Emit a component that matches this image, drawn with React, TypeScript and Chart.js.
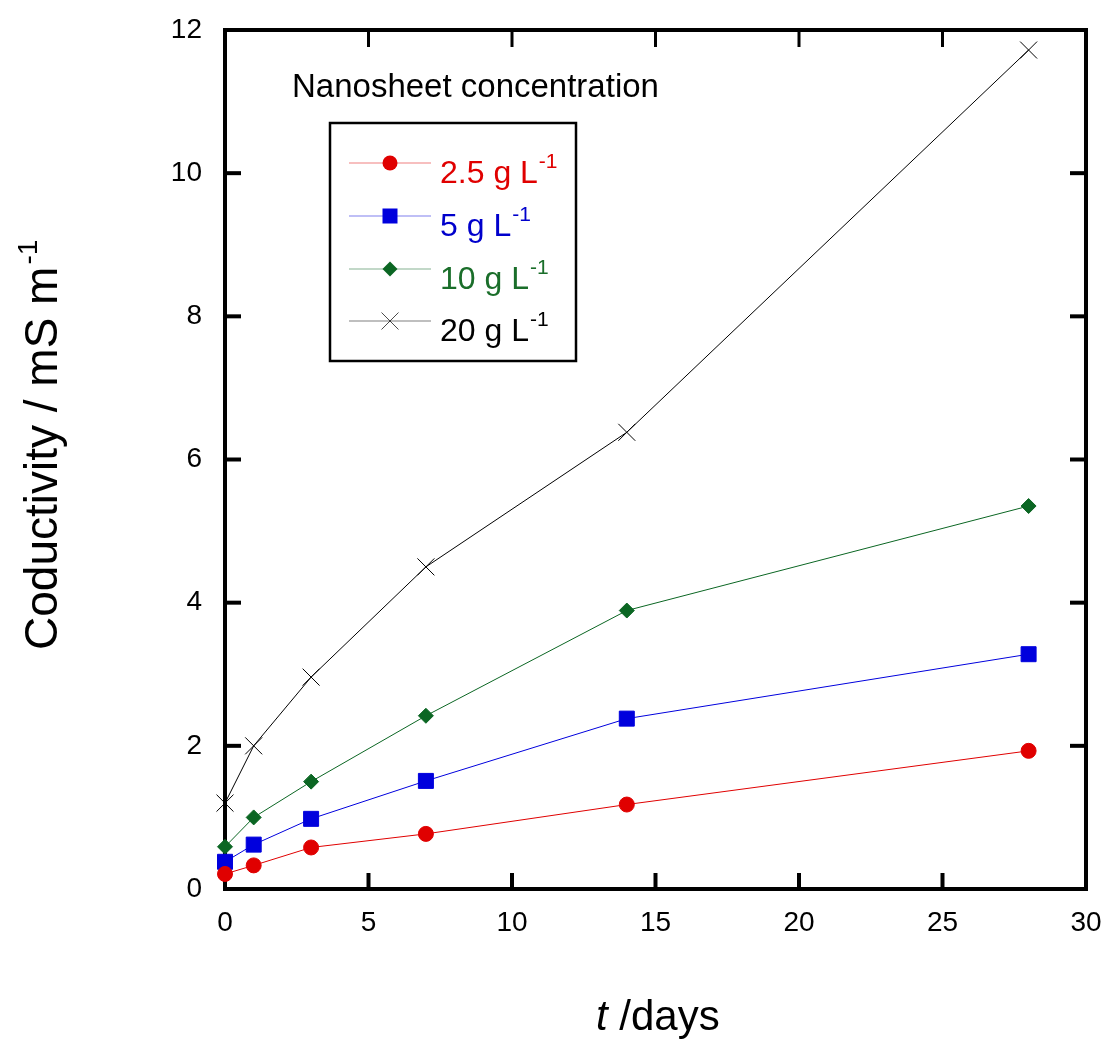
import React, { useEffect, useRef } from 'react';
import { Chart, registerables } from 'chart.js';

Chart.register(...registerables);

// ---- data ----
const days = [0, 1, 3, 7, 14, 28];
const conc2_5 = [0.21, 0.33, 0.58, 0.77, 1.18, 1.93];
const conc5 = [0.38, 0.62, 0.98, 1.51, 2.38, 3.28];
const conc10 = [0.59, 1.0, 1.5, 2.42, 3.89, 5.35];
const conc20 = [1.2, 2.0, 2.96, 4.5, 6.38, 11.72];
const seriesNames = ['2.5 g L', '5 g L', '10 g L', '20 g L'];
const seriesValues = [conc2_5, conc5, conc10, conc20];
const seriesColors = ['#e00000', '#0000dd', '#0b6623', '#000000'];
const textColors = ['#e00000', '#0000cc', '#1a6e2a', '#000000'];
const pointStyles = ['circle', 'rect', 'rectRot', 'crossRot'];
const pointRadii = [7.5, 10.6, 7.5, 12];
const xTickValues = [0, 5, 10, 15, 20, 25, 30];
const yTickValues = [0, 2, 4, 6, 8, 10, 12];
const legendTitle = 'Nanosheet concentration';
const superscript = '-1';
const yTitle = 'Coductivity / mS m';
const xTitleItalic = 't';
const xTitleRest = ' /days';

const FONT = 'Arial, "Liberation Sans", sans-serif';

const framePlugin = {
  id: 'frameTicks',
  beforeDatasetsDraw(chart: any) {
    const { ctx, chartArea } = chart;
    const { left, right, top, bottom } = chartArea;
    const xs = chart.scales.x;
    const ys = chart.scales.y;
    ctx.save();
    ctx.strokeStyle = '#000';
    ctx.lineWidth = 4;
    ctx.strokeRect(left, top, right - left, bottom - top);
    xTickValues.slice(1, -1).forEach((v) => {
      const px = xs.getPixelForValue(v);
      ctx.lineWidth = 4;
      ctx.beginPath();
      ctx.moveTo(px, bottom);
      ctx.lineTo(px, bottom - 16);
      ctx.stroke();
      ctx.lineWidth = 3;
      ctx.beginPath();
      ctx.moveTo(px, top);
      ctx.lineTo(px, top + 17);
      ctx.stroke();
    });
    yTickValues.slice(1, -1).forEach((v) => {
      const py = ys.getPixelForValue(v);
      ctx.lineWidth = 4;
      ctx.beginPath();
      ctx.moveTo(left, py);
      ctx.lineTo(left + 16, py);
      ctx.stroke();
      ctx.beginPath();
      ctx.moveTo(right, py);
      ctx.lineTo(right - 16, py);
      ctx.stroke();
    });
    ctx.restore();
  },
  afterDraw(chart: any) {
    const { ctx } = chart;
    ctx.save();
    ctx.fillStyle = '#000';
    ctx.textBaseline = 'alphabetic';
    ctx.textAlign = 'left';

    // y-axis title
    ctx.save();
    ctx.translate(57, 650);
    ctx.rotate(-Math.PI / 2);
    ctx.font = `46px ${FONT}`;
    ctx.fillText(yTitle, 0, 0);
    const w = ctx.measureText(yTitle).width;
    ctx.font = `28px ${FONT}`;
    ctx.fillText(superscript, w + 2, -20);
    ctx.restore();

    // x-axis title
    ctx.font = `italic 42px ${FONT}`;
    ctx.fillText(xTitleItalic, 596, 1030);
    const tw = ctx.measureText(xTitleItalic).width;
    ctx.font = `42px ${FONT}`;
    ctx.fillText(xTitleRest, 596 + tw, 1030);

    // legend title
    ctx.font = `33px ${FONT}`;
    ctx.fillText(legendTitle, 292, 97);

    // legend box
    ctx.lineWidth = 2.5;
    ctx.strokeStyle = '#000';
    ctx.strokeRect(330, 123, 246, 238);

    const rows = [163, 216, 269, 321];
    rows.forEach((ry, i) => {
      const col = seriesColors[i];
      ctx.strokeStyle = col;
      ctx.globalAlpha = 0.5;
      ctx.lineWidth = 1;
      ctx.beginPath();
      ctx.moveTo(349, ry);
      ctx.lineTo(431, ry);
      ctx.stroke();
      ctx.globalAlpha = 1;
      ctx.fillStyle = col;
      const cx = 390;
      if (pointStyles[i] === 'circle') {
        ctx.beginPath();
        ctx.arc(cx, ry, 7.5, 0, Math.PI * 2);
        ctx.fill();
      } else if (pointStyles[i] === 'rect') {
        ctx.fillRect(cx - 7.5, ry - 7.5, 15, 15);
      } else if (pointStyles[i] === 'rectRot') {
        ctx.beginPath();
        ctx.moveTo(cx - 7.5, ry);
        ctx.lineTo(cx, ry - 7.5);
        ctx.lineTo(cx + 7.5, ry);
        ctx.lineTo(cx, ry + 7.5);
        ctx.closePath();
        ctx.fill();
      } else {
        ctx.globalAlpha = 0.7;
        ctx.lineWidth = 1;
        ctx.strokeStyle = col;
        ctx.beginPath();
        ctx.moveTo(cx - 8.5, ry - 8.5);
        ctx.lineTo(cx + 8.5, ry + 8.5);
        ctx.moveTo(cx + 8.5, ry - 8.5);
        ctx.lineTo(cx - 8.5, ry + 8.5);
        ctx.stroke();
        ctx.globalAlpha = 1;
      }
      ctx.fillStyle = textColors[i];
      ctx.font = `32px ${FONT}`;
      ctx.fillText(seriesNames[i], 440, ry + 20);
      const lw = ctx.measureText(seriesNames[i]).width;
      ctx.font = `21px ${FONT}`;
      ctx.fillText(superscript, 440 + lw + 1, ry + 5);
    });
    ctx.restore();
  },
};

export default function App() {
  const ref = useRef<HTMLCanvasElement | null>(null);
  useEffect(() => {
    if (!ref.current) return;
    const chart = new Chart(ref.current, {
      type: 'line',
      data: {
        datasets: seriesValues.map((vals, i) => ({
          label: seriesNames[i],
          data: days.map((d, j) => ({ x: d, y: vals[j] })),
          borderColor: seriesColors[i],
          backgroundColor: seriesColors[i],
          borderWidth: 1,
          pointStyle: pointStyles[i] as any,
          pointRadius: pointRadii[i],
          pointBorderWidth: 1,
          pointBorderColor: seriesColors[i],
          pointBackgroundColor: seriesColors[i],
          tension: 0,
          clip: false as any,
        })),
      },
      options: {
        animation: false,
        responsive: false,
        devicePixelRatio: 1,
        layout: { padding: { top: 30, right: 21, left: 0, bottom: 0 } },
        plugins: { legend: { display: false }, tooltip: { enabled: false } },
        scales: {
          x: {
            type: 'linear',
            min: 0,
            max: 30,
            grid: { display: false, drawTicks: false },
            border: { display: false },
            ticks: {
              stepSize: 5,
              padding: 17,
              color: '#000',
              font: { family: FONT, size: 28 },
            },
            afterFit: (s: any) => {
              s.height = 150;
              s.paddingLeft = 0;
              s.paddingRight = 0;
            },
          },
          y: {
            type: 'linear',
            min: 0,
            max: 12,
            grid: { display: false, drawTicks: false },
            border: { display: false },
            ticks: {
              stepSize: 2,
              padding: 23,
              color: '#000',
              font: { family: FONT, size: 28 },
            },
            afterFit: (s: any) => {
              s.width = 225;
              s.paddingTop = 0;
              s.paddingBottom = 0;
            },
          },
        },
      },
      plugins: [framePlugin],
    });
    return () => chart.destroy();
  }, []);
  return (
    <div style={{ position: 'fixed', left: 0, top: 0, width: 1107, height: 1039, background: '#fff' }}>
      <canvas ref={ref} width={1107} height={1039} />
    </div>
  );
}
